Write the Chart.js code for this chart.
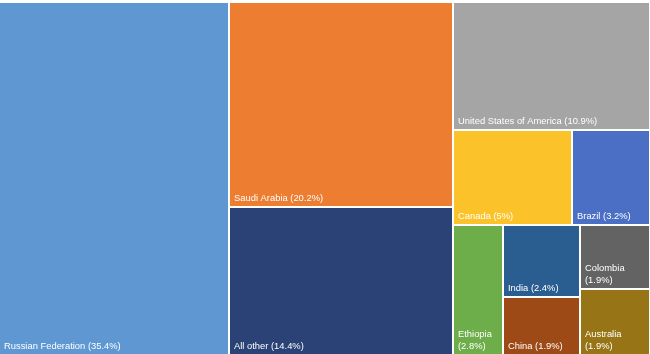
<!DOCTYPE html>
<html>
<head>
<meta charset="utf-8">
<script src="https://cdn.jsdelivr.net/npm/chart.js@4/dist/chart.umd.min.js"></script>
<style>
  html, body { margin: 0; padding: 0; background: #fff; }
  #wrap { width: 650px; height: 354px; }
</style>
</head>
<body>
<div id="wrap"><canvas id="treeChart"></canvas></div>
<script>
const categories = ['Russian Federation', 'Saudi Arabia', 'All other', 'United States of America',
    'Canada', 'Brazil', 'Ethiopia', 'India', 'China', 'Colombia', 'Australia'];
const shares = [35.4, 20.2, 14.4, 10.9, 5, 3.2, 2.8, 2.4, 1.9, 1.9, 1.9];
const colors = ['#5F97D3', '#ED7D31', '#2A4275', '#A5A5A5', '#FBC22A', '#4A6FC4',
    '#6DAE4A', '#2A5D90', '#9E4A17', '#636363', '#977516'];

// strips of the layout: 'col' takes a share of remaining width, 'row' a share of remaining height
const strips = [
    { dir: 'col', items: [0] },
    { dir: 'col', items: [1, 2] },
    { dir: 'row', items: [3] },
    { dir: 'row', items: [4, 5] },
    { dir: 'col', items: [6] },
    { dir: 'col', items: [7, 8] },
    { dir: 'col', items: [9, 10] }
];

function layout() {
    const cells = [];
    let left = 0, top = 0, right = 100, bottom = 100;
    let remaining = shares.reduce((a, b) => a + b, 0);
    strips.forEach(s => {
        const sum = s.items.reduce((a, i) => a + shares[i], 0);
        if (s.dir === 'col') {
            const w = (right - left) * sum / remaining;
            let yy = top;
            s.items.forEach(i => {
                const h = (bottom - top) * shares[i] / sum;
                cells.push({ i, x0: left, x1: left + w, y0: yy, y1: yy + h });
                yy += h;
            });
            left += w;
        } else {
            const h = (bottom - top) * sum / remaining;
            let xx = left;
            s.items.forEach(i => {
                const w = (right - left) * shares[i] / sum;
                cells.push({ i, x0: xx, x1: xx + w, y0: top, y1: top + h });
                xx += w;
            });
            top += h;
        }
        remaining -= sum;
    });
    return cells.map(c => ({
        x: (c.x0 + c.x1) / 2, y: (c.y0 + c.y1) / 2,
        x0: c.x0, x1: c.x1, y0: c.y0, y1: c.y1,
        label: categories[c.i] + ' (' + shares[c.i] + '%)',
        color: colors[c.i]
    }));
}

const treemapCells = {
    id: 'treemapCells',
    afterDatasetsDraw(chart) {
        const { ctx, scales: { x, y } } = chart;
        const gap = 2;
        ctx.save();
        chart.data.datasets[0].data.forEach(c => {
            const l = Math.round(x.getPixelForValue(c.x0));
            let r = Math.round(x.getPixelForValue(c.x1));
            const t = Math.round(y.getPixelForValue(c.y0));
            let b = Math.round(y.getPixelForValue(c.y1));
            if (c.x1 < 99.99) r -= gap;
            if (c.y1 < 99.99) b -= gap;
            ctx.fillStyle = c.color;
            ctx.fillRect(l, t, r - l, b - t);

            // label, bottom-left, wrapped when too wide
            ctx.font = '9.4px "Liberation Sans", Arial, sans-serif';
            ctx.fillStyle = '#fff';
            ctx.textBaseline = 'alphabetic';
            const maxW = r - l - 8;
            let lines = [c.label];
            if (ctx.measureText(c.label).width > maxW) {
                const k = c.label.lastIndexOf(' (');
                lines = [c.label.slice(0, k), c.label.slice(k + 1)];
            }
            const lh = 12;
            lines.forEach((ln, j) => {
                ctx.fillText(ln, l + 4, b - 5 - (lines.length - 1 - j) * lh);
            });
        });
        ctx.restore();
    }
};

new Chart(document.getElementById('treeChart'), {
    type: 'scatter',
    data: {
        datasets: [{
            data: layout(),
            pointRadius: 0,
            pointHoverRadius: 0
        }]
    },
    options: {
        responsive: true,
        maintainAspectRatio: false,
        animation: false,
        layout: { padding: { top: 3, right: 1, left: 0, bottom: 0 } },
        plugins: { legend: { display: false }, tooltip: { enabled: false } },
        scales: {
            x: { type: 'linear', min: 0, max: 100, display: false },
            y: { type: 'linear', min: 0, max: 100, reverse: true, display: false }
        }
    },
    plugins: [treemapCells]
});
</script>
</body>
</html>
